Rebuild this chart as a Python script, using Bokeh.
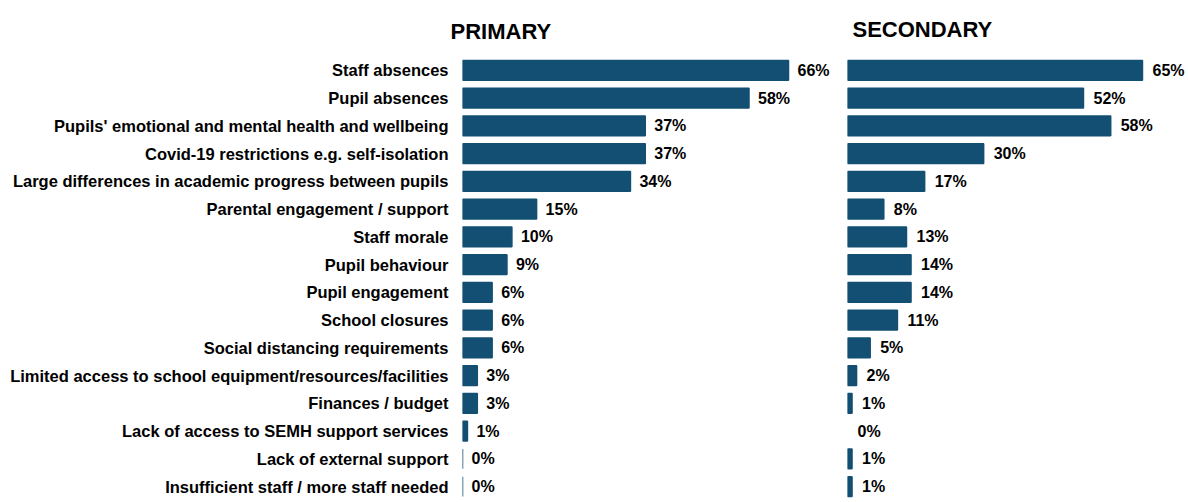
from bokeh.plotting import figure
from bokeh.models import ColumnDataSource, FactorRange
from bokeh.layouts import row
from bokeh.embed import file_html
from bokeh.resources import INLINE
from bokeh.core.properties import value

categories = [
    "Staff absences",
    "Pupil absences",
    "Pupils' emotional and mental health and wellbeing",
    "Covid-19 restrictions e.g. self-isolation",
    "Large differences in academic progress between pupils",
    "Parental engagement / support",
    "Staff morale",
    "Pupil behaviour",
    "Pupil engagement",
    "School closures",
    "Social distancing requirements",
    "Limited access to school equipment/resources/facilities",
    "Finances / budget",
    "Lack of access to SEMH support services",
    "Lack of external support",
    "Insufficient staff / more staff needed",
]
primary = [66, 58, 37, 37, 34, 15, 10, 9, 6, 6, 6, 3, 3, 1, 0, 0]
secondary = [65, 52, 58, 30, 17, 8, 13, 14, 14, 11, 5, 2, 1, 0, 1, 1]
titles = ["PRIMARY", "SECONDARY"]

BAR = "#134F73"
FONT = "Liberation Sans"
factors = list(reversed(categories))


def make_source(vals):
    return ColumnDataSource(dict(
        cat=categories,
        val=vals,
        lab=[f"{v}%" for v in vals],
        la=[1.0 if v > 0 else 0.0 for v in vals],
    ))


src1 = make_source(primary)
src2 = make_source(secondary)

H = 500
TOP = 56

p1 = figure(width=830, height=H, y_range=FactorRange(factors=factors),
            x_range=(0, 74.5), output_backend="svg", toolbar_location=None,
            min_border_left=462, min_border_right=0, min_border_top=TOP,
            min_border_bottom=0, title=titles[0])
p1.hbar(y="cat", right="val", left=0, height=0.72, source=src1,
        fill_color=BAR, line_color=BAR, line_width=1.5)
p1.text(x="val", y="cat", text="lab", source=src1, x_offset=9,
        text_baseline="middle", text_align="left",
        text_font=value(FONT), text_font_style="bold", text_font_size="16px",
        text_color="black")

p2 = figure(width=356, height=H, y_range=p1.y_range,
            x_range=(0, 74.7), output_backend="svg", toolbar_location=None,
            min_border_left=17, min_border_right=0, min_border_top=TOP,
            min_border_bottom=0, title=titles[1])
p2.hbar(y="cat", right="val", left=0, height=0.72, source=src2,
        fill_color=BAR, line_color=BAR, line_alpha="la", line_width=1.5)
p2.text(x="val", y="cat", text="lab", source=src2, x_offset=10,
        text_baseline="middle", text_align="left",
        text_font=value(FONT), text_font_style="bold", text_font_size="16px",
        text_color="black")

for p in (p1, p2):
    p.outline_line_color = None
    p.xgrid.visible = False
    p.ygrid.visible = False
    p.xaxis.visible = False
    p.title.text_font = FONT
    p.title.text_font_style = "bold"
    p.title.text_font_size = "22px"
    p.title.text_color = "black"
    p.title.align = "left"

p1.title.offset = -12
p1.title.standoff = 26
p2.title.offset = 5
p2.title.standoff = 26
p2.title.vertical_align = "top"

p2.yaxis.visible = False
ax = p1.yaxis[0]
ax.axis_line_color = None
ax.major_tick_line_color = None
ax.minor_tick_line_color = None
ax.major_tick_out = 0
ax.major_tick_in = 0
ax.major_label_standoff = 14
ax.major_label_text_font = FONT
ax.major_label_text_font_style = "bold"
ax.major_label_text_font_size = "16.5px"
ax.major_label_text_color = "black"

layout = row(p1, p2)
open("out.html", "w").write(file_html(layout, INLINE))
